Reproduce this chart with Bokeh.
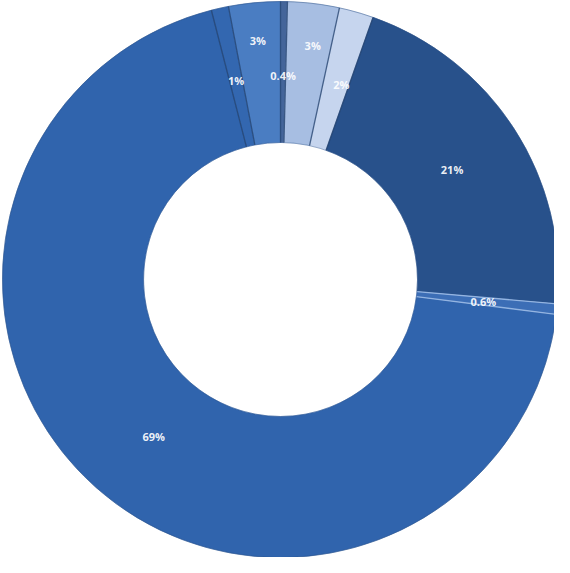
import math
from bokeh.plotting import figure
from bokeh.models import Range1d, ColumnDataSource
from bokeh.core.properties import value
from bokeh.embed import file_html
from bokeh.resources import INLINE

# data (clockwise from 12 o'clock)
labels = ["0.4%", "3%", "2%", "21%", "0.6%", "69%", "1%", "3%"]
shares = [0.4, 3, 2, 21, 0.6, 69, 1, 3]
colors = ["#44659a", "#a7bee2", "#c6d5ee", "#28518b", "#3c6eb6", "#3064ad", "#3367b0", "#4a7dc2"]

# styling
W, H = 554, 557
CX, CY = 280, 279          # donut centre in figure pixels (from left, from top)
R_OUT, R_IN = 278, 137
label_radius = {1: 236, 7: 240, 5: 202}
label_shift = {5: 2.5, 1: -1.0, 2: -1.5}      # degrees nudge
default_lr = 204

total = sum(shares)
starts, ends, lx, ly = [], [], [], []
cum = 0.0
for i, s in enumerate(shares):
    a0 = cum / total * 2 * math.pi
    cum += s
    a1 = cum / total * 2 * math.pi
    starts.append(math.pi / 2 - a0)
    ends.append(math.pi / 2 - a1)
    mid = (a0 + a1) / 2 - math.radians(label_shift.get(i, 0))
    r = label_radius.get(i, default_lr)
    lx.append(r * math.sin(mid))
    ly.append(r * math.cos(mid))

src = ColumnDataSource(dict(start=starts, end=ends, color=colors, lx=lx, ly=ly, label=labels))

p = figure(width=W, height=H, output_backend="svg", toolbar_location=None,
           x_range=Range1d(-CX, W - CX), y_range=Range1d(-(H - CY), CY),
           min_border=0, background_fill_color="white", border_fill_color="white")
p.axis.visible = False
p.grid.visible = False
p.outline_line_color = None

p.annular_wedge(x=0, y=0, inner_radius=R_IN, outer_radius=R_OUT,
                start_angle="start", end_angle="end", direction="clock",
                fill_color="color", line_color="color", line_width=0.5,
                source=src)

# separator lines between slices
x0s, y0s, x1s, y1s, lc = [], [], [], [], []
for i, a in enumerate(starts):
    x0s.append(R_IN * math.cos(a)); y0s.append(R_IN * math.sin(a))
    x1s.append(R_OUT * math.cos(a)); y1s.append(R_OUT * math.sin(a))
    lc.append("#a9c6ec" if i in (4, 5) else "#23426f")
p.segment(x0=x0s, y0=y0s, x1=x1s, y1=y1s, line_color=lc, line_width=1.3, line_alpha=0.8)

# faint outer/inner edges
p.circle(x=[0], y=[0], radius=R_OUT, fill_color=None, line_color="#2a4f86", line_width=1, line_alpha=0.5)
p.circle(x=[0], y=[0], radius=R_IN, fill_color=None, line_color="#2a4f86", line_width=1, line_alpha=0.4)

p.text(x="lx", y="ly", text="label", source=src, text_color="white",
       text_font=value("Open Sans"), text_font_size="11px", text_font_style="bold",
       text_align="center", text_baseline="middle", text_alpha=0.92)

open("out.html", "w").write(file_html(p, INLINE))
